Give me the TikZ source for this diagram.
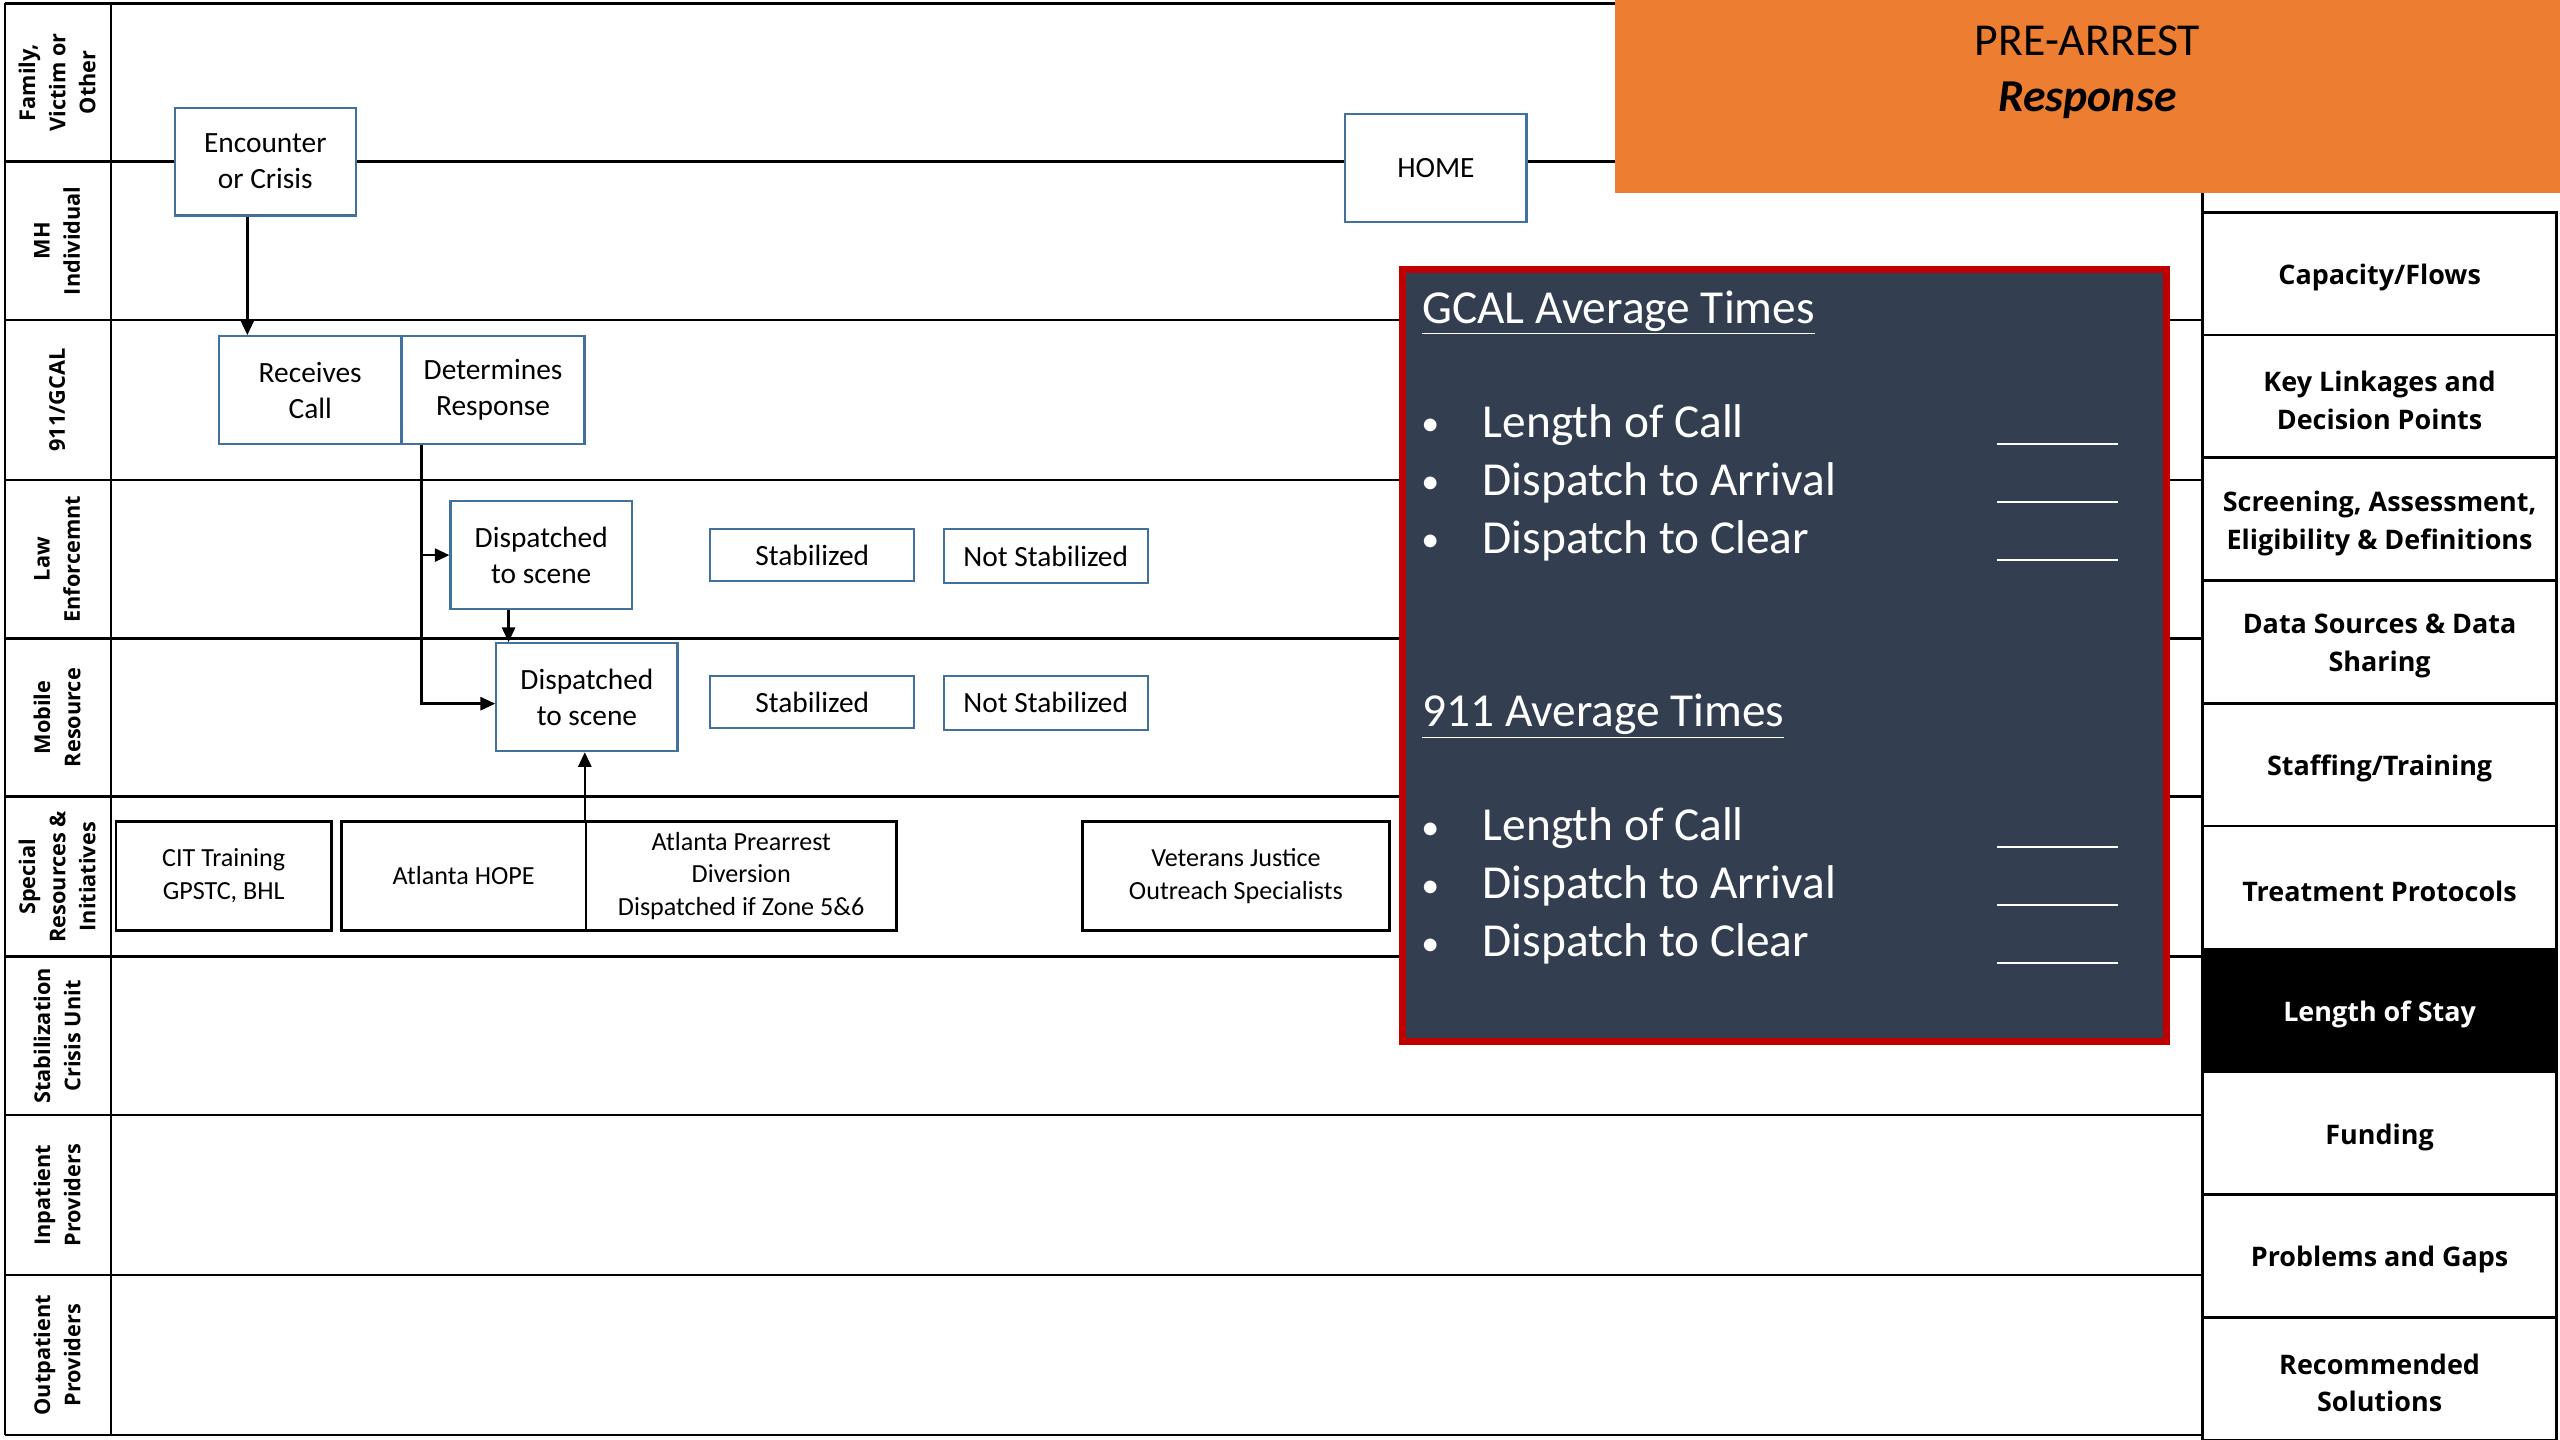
\documentclass[tikz,border=0pt]{standalone}
\usepackage{fontspec}
\setmainfont{Carlito}
\newfontfamily\osans{Open Sans}
\usetikzlibrary{arrows.meta,calc}
\definecolor{boxblue}{HTML}{41719C}
\definecolor{orangehdr}{HTML}{ED7D31}
\definecolor{slate}{HTML}{333F50}
\definecolor{redframe}{HTML}{C00000}
\begin{document}
\begin{tikzpicture}[x=1pt,y=-1pt,
  grid/.style={line width=1.6pt,black},
  bluebox/.style={draw=boxblue,line width=1.4pt,fill=white,align=center,inner sep=0pt,font=\fontsize{18}{22}\selectfont},
  blackbox/.style={draw=black,line width=1.6pt,fill=white,align=center,inner sep=0pt,font=\fontsize{16}{20}\selectfont},
  lanelabel/.style={rotate=90,align=center,inner sep=0pt,font=\osans\bfseries\fontsize{13.3}{18.5}\selectfont},
  panelcell/.style={draw=black,line width=1.6pt,inner sep=0pt,minimum width=217pt,minimum height=75.2pt},
  paneltext/.style={align=center,inner sep=0pt,font=\osans\bfseries\fontsize{16.5}{23}\selectfont},
  whitetext/.style={text=white,inner sep=0pt,font=\fontsize{29}{35}\selectfont},
  dot/.style={text=white,inner sep=0pt,font=\fontsize{22}{26}\selectfont},
  blank/.style={white,line width=1.3pt},
  arr/.style={line width=1.6pt,-{Triangle[length=9pt,width=8pt]}}]

% page frame
\useasboundingbox (0,0) rectangle (1568,882);
\fill[white] (0,0) rectangle (1568,882);

% swim-lane grid
\draw[grid] (3,2) -- (3,879);
\draw[grid] (68,2) -- (68,879);
\draw[grid] (3,2) -- (1349,2);
\foreach \yy in {99,196,294,391,488,586,683,781,879}
  \draw[grid] (3,\yy) -- (1349,\yy);

% lane headings
\node[lanelabel] (l1) at (35,50.5) {Family,\\Victim or\\Other};
\node[lanelabel] (l2) at (35,147.5) {MH\\Individual};
\node[lanelabel] (l3) at (35,245) {911/GCAL};
\node[lanelabel] (l4) at (35,342.5) {Law\\Enforcemnt};
\node[lanelabel] (l5) at (35,439.5) {Mobile\\Resource};
\node[lanelabel] (l6) at (35,537) {Special\\Resources \&\\Initiatives};
\node[lanelabel] (l7) at (35,634.5) {Stabilization\\Crisis Unit};
\node[lanelabel] (l8) at (35,732) {Inpatient\\Providers};
\node[lanelabel] (l9) at (35,830) {Outpatient\\Providers};

% process boxes
\node[bluebox,minimum width=111pt,minimum height=66pt] (enc) at (162.5,99) {Encounter\\or Crisis};
\node[bluebox,minimum width=111pt,minimum height=66pt] (home) at (879.5,103) {HOME};
\node[bluebox,minimum width=112pt,minimum height=66pt] (rc) at (190,239) {Receives\\Call};
\node[bluebox,minimum width=112pt,minimum height=66pt] (det) at (302,239) {Determines\\Response};
\node[bluebox,minimum width=111pt,minimum height=66pt] (le) at (331.5,340) {Dispatched\\to scene};
\node[bluebox,minimum width=125pt,minimum height=32pt] (les) at (497.5,340) {Stabilized};
\node[bluebox,minimum width=125pt,minimum height=33pt] (lens) at (640.5,340.5) {Not Stabilized};
\node[bluebox,minimum width=111pt,minimum height=66pt] (mr) at (359.5,427) {Dispatched\\to scene};
\node[bluebox,minimum width=125pt,minimum height=32pt] (mrs) at (497.5,430) {Stabilized};
\node[bluebox,minimum width=125pt,minimum height=33pt] (mrns) at (640.5,430.5) {Not Stabilized};

% special resources
\node[blackbox,minimum width=132pt,minimum height=67pt] (cit) at (137,536.5) {CIT Training\\GPSTC, BHL};
\node[blackbox,minimum width=150pt,minimum height=67pt] (hope) at (284,536.5) {Atlanta HOPE};
\node[blackbox,minimum width=190pt,minimum height=67pt] (apd) at (454,536.5) {Atlanta Prearrest\\Diversion\\Dispatched if Zone 5\&6};
\node[blackbox,minimum width=188pt,minimum height=67pt] (vjo) at (757,536.5) {Veterans Justice\\Outreach Specialists};

% flow connectors
\draw[arr] ([xshift=-11pt]enc.south) -- ([xshift=-11pt]enc.south |- rc.north);
\draw[arr] ([xshift=-44pt]det.south) |- (le.west);
\draw[arr] ([xshift=-44pt]det.south) |- ([yshift=-4pt]mr.west);
\draw[arr] ([xshift=-20pt]le.south) -- ([xshift=-20pt]le.south |- mr.north);
\draw[arr] (apd.north west) -- (apd.north west |- mr.south);

% title banner
\node[fill=orangehdr,minimum width=579pt,minimum height=118pt,inner sep=0pt] (hdr) at (1278.5,59) {};
\node[inner sep=0pt,font=\fontsize{28}{34}\selectfont] (ht1) at (1278.5,25) {PRE-ARREST};
\node[inner sep=0pt,font=\bfseries\itshape\fontsize{28}{34}\selectfont] (ht2) at (1278.5,61.5) {Response};

% topic panel
\draw[grid] (1349,118) -- (1349,882);
\foreach \yy/\txt/\nm in {167.6/Capacity{/}Flows/p1,
                          242.8/Key Linkages and\\Decision Points/p2,
                          318.0/{Screening, Assessment,\\Eligibility \& Definitions}/p3,
                          393.2/Data Sources \& Data\\Sharing/p4,
                          468.4/Staffing{/}Training/p5,
                          543.6/Treatment Protocols/p6,
                          694.0/Funding/p8,
                          769.2/Problems and Gaps/p9,
                          844.4/Recommended\\Solutions/p10}{
  \node[panelcell] (\nm) at (1457.5,\yy) {};
  \node[paneltext] (\nm t) at ([yshift=-2.5pt]\nm.center) {\txt};
}
\node[panelcell,fill=black] (p7) at (1457.5,618.8) {};
\node[paneltext,text=white] (p7t) at ([yshift=-2.5pt]p7.center) {Length of Stay};

% average times card
\node[fill=slate,draw=redframe,line width=4.5pt,minimum width=468pt,minimum height=473pt,inner sep=0pt] (card) at (1093,401.5) {};
\node[whitetext,anchor=base west] (t1) at (871,198) {\underline{GCAL Average Times}};
\foreach \yy/\txt/\nm in {268/Length of Call/a,303.5/Dispatch to Arrival/b,339/Dispatch to Clear/c}{
  \node[dot,anchor=base] (g\nm b) at (876,\yy-1) {•};
  \node[whitetext,anchor=base west] (g\nm) at (908,\yy) {\txt};
  \draw[blank] (1223,\yy+4) -- (1297,\yy+4);
}
\node[whitetext,anchor=base west] (t2) at (871,445) {\underline{911 Average Times}};
\foreach \yy/\txt/\nm in {515/Length of Call/a,550.5/Dispatch to Arrival/b,586/Dispatch to Clear/c}{
  \node[dot,anchor=base] (n\nm b) at (876,\yy-1) {•};
  \node[whitetext,anchor=base west] (n\nm) at (908,\yy) {\txt};
  \draw[blank] (1223,\yy+4) -- (1297,\yy+4);
}
\end{tikzpicture}
\end{document}
